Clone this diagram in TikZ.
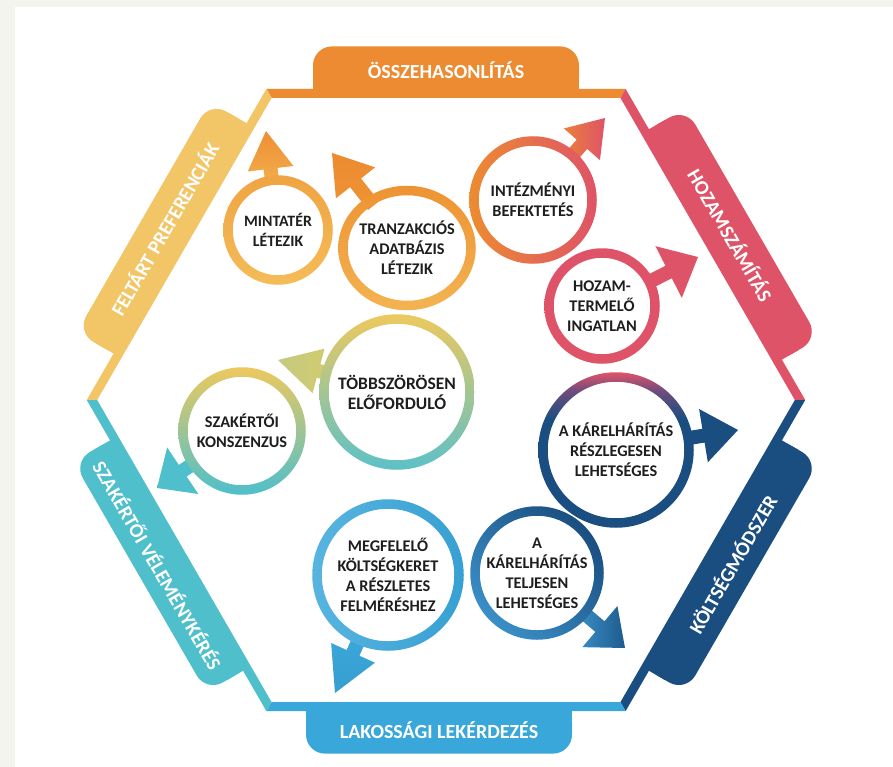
\documentclass[tikz,border=0pt]{standalone}
\usepackage{fontspec}
\setmainfont{Carlito}
\usetikzlibrary{calc}
\definecolor{bgstrip}{HTML}{F3F5EC}
\definecolor{cOrange}{HTML}{EC8B31}
\definecolor{cPink}{HTML}{DF5368}
\definecolor{cNavy}{HTML}{1A4E80}
\definecolor{cBlue}{HTML}{3AA7DA}
\definecolor{cTeal}{HTML}{4EBFCB}
\definecolor{cYellow}{HTML}{F2C566}
\definecolor{cMauve}{HTML}{6E4C7C}
\definecolor{txt}{HTML}{1E1E1E}
\definecolor{oA}{HTML}{EE8E35}
\definecolor{oB}{HTML}{F2B04C}
\definecolor{oC}{HTML}{F0A443}
\definecolor{oD}{HTML}{F4BC58}
\definecolor{oE}{HTML}{EE9333}
\definecolor{oF}{HTML}{F3B352}
\definecolor{gA}{HTML}{C4CA80}
\definecolor{gB}{HTML}{D3CB6E}
\definecolor{yA}{HTML}{EDC95E}
\definecolor{tA}{HTML}{5CC1C7}
\definecolor{bL}{HTML}{3A8FC7}
\pgfdeclareverticalshading{reszsh}{100bp}{color(0bp)=(cNavy); color(25bp)=(cNavy); color(60bp)=(cNavy); color(69bp)=(cMauve); color(75bp)=(cPink); color(100bp)=(cPink)}

% one side of the hexagon: rotation, colour, offset of the tab along the side
\newcommand\hexside[3]{%
  \begin{scope}[shift={(446,400)}, rotate=#1]
    \fill[#2, rounded corners=19pt] (-133+#3,-303) -- (-133+#3,-353.6) -- (133+#3,-353.6) -- (133+#3,-303) -- cycle;
    \fill[#2] (-133+#3,-330) -- (133+#3,-330) -- (133+#3,-303) -- (-133+#3,-303) -- cycle;
    \fill[#2] (-179.6,-311.1) -- (179.6,-311.1) -- (174.4,-302.1) -- (-174.4,-302.1) -- cycle;
  \end{scope}}

% arrow leaving a ring: node, radius, tip, head length, head half width, shading
\newcommand\ringarrow[6]{%
  \coordinate (aS) at ($(#1.center)!#2pt!(#3)$);
  \coordinate (aB) at ($(#3)!#4pt!(aS)$);
  \shade[#6] ($(aS)!7pt!90:(#3)$) -- ($(aB)!7pt!90:(#3)$) -- ($(aB)!#5pt!90:(#3)$) -- (#3)
     -- ($(aB)!#5pt!-90:(#3)$) -- ($(aB)!7pt!-90:(#3)$) -- ($(aS)!7pt!-90:(#3)$) -- cycle;}

% ring around a node: node, radius, shading
\newcommand\ringat[3]{%
  \shade[even odd rule, #3] (#1.center) circle[radius=#2pt+4.75pt] (#1.center) circle[radius=#2pt-4.75pt];}

\begin{document}
\begin{tikzpicture}[x=1pt, y=-1pt,
  ctext/.style={align=center, font=\bfseries\fontsize{16.3}{20}\selectfont, text=txt, inner sep=0pt},
  tabtext/.style={font=\bfseries\fontsize{20}{24}\selectfont, text=white, inner sep=0pt}]
\useasboundingbox (0,0) rectangle (893,767);
\fill[white] (0,0) rectangle (893,767);
\fill[bgstrip] (0,0) rectangle (15,767);
\fill[bgstrip] (0,0) rectangle (893,7);

% hexagon sides with their tabs
\hexside{0}{cOrange}{0}
\hexside{-60}{cPink}{0}
\hexside{-120}{cNavy}{0}
\hexside{180}{cBlue}{7}
\hexside{120}{cTeal}{0}
\hexside{60}{cYellow}{7}

% tab labels
\node[tabtext] (tTop) at (446,70) {ÖSSZEHASONLÍTÁS};
\node[tabtext, rotate=-60] (tTR) at (731,235) {HOZAMSZÁMÍTÁS};
\node[tabtext, rotate=60] (tBR) at (732,564) {KÖLTSÉGMÓDSZER};
\node[tabtext] (tBot) at (439,730) {LAKOSSÁGI LEKÉRDEZÉS};
\node[tabtext, rotate=-60] (tBL) at (158,565) {SZAKÉRTŐI VÉLEMÉNYKÉRÉS};
\node[tabtext, rotate=60] (tTL) at (164,229) {FELTÁRT PREFERENCIÁK};

% circle texts
\node[ctext, font=\bfseries\fontsize{15.8}{20}\selectfont] (c1) at (278,230) {MINTATÉR\\LÉTEZIK};
\node[ctext] (c2) at (407,248) {TRANZAKCIÓS\\ADATBÁZIS\\LÉTEZIK};
\node[ctext] (c3) at (533,200) {INTÉZMÉNYI\\BEFEKTETÉS};
\node[ctext] (c4) at (602,306) {HOZAM-\\TERMELŐ\\INGATLAN};
\node[ctext, font=\bfseries\fontsize{17.5}{20}\selectfont] (c5) at (397,392) {TÖBBSZÖRÖSEN\\ELŐFORDULÓ};
\node[ctext] (c6) at (242,431) {SZAKÉRTŐI\\KONSZENZUS};
\node[ctext] (c7) at (616,450) {A KÁRELHÁRÍTÁS\\RÉSZLEGESEN\\LEHETSÉGES};
\node[ctext] (c8) at (537,573) {A\\KÁRELHÁRÍTÁS\\TELJESEN\\LEHETSÉGES};
\node[ctext] (c9) at (388,575) {MEGFELELŐ\\KÖLTSÉGKERET\\A RÉSZLETES\\FELMÉRÉSHEZ};

% arrow tips
\coordinate (p1) at (266,131);
\coordinate (p2) at (332,153);
\coordinate (p3) at (605,118);
\coordinate (p4) at (698,257);
\coordinate (p5) at (278,360);
\coordinate (p6) at (157,488);
\coordinate (p7) at (738,430);
\coordinate (p8) at (625,648);
\coordinate (p9) at (335,693);

% arrows
\ringarrow{c1}{46}{p1}{38}{23}{top color=oA, bottom color=oB}
\ringarrow{c2}{54}{p2}{38}{25}{top color=cOrange, bottom color=oE}
\ringarrow{c3}{55}{p3}{35}{24}{left color=cOrange!80!cPink, right color=cPink}
\ringarrow{c4}{49}{p4}{33}{29}{top color=cPink, bottom color=cPink}
\ringarrow{c5}{69}{p5}{42}{23}{left color=gA, right color=gB}
\ringarrow{c6}{55}{p6}{31}{28}{top color=cTeal, bottom color=cTeal}
\ringarrow{c7}{69}{p7}{35}{27}{top color=cNavy, bottom color=cNavy}
\ringarrow{c8}{58}{p8}{33}{27}{left color=bL, right color=cNavy!85!cBlue}
\ringarrow{c9}{67}{p9}{44}{24}{top color=cBlue, bottom color=cBlue!90!cNavy}

% rings
\ringat{c1}{50}{top color=oC, bottom color=oD}
\shade[even odd rule, top color=oE, bottom color=oF]
  (c2.center) ellipse[x radius=68.75pt, y radius=62.25pt] (c2.center) ellipse[x radius=59.25pt, y radius=52.75pt];
\ringat{c3}{59}{left color=cOrange, right color=cPink}
\ringat{c4}{53}{top color=cPink, bottom color=cPink}
\ringat{c5}{73}{top color=yA, bottom color=tA}
\ringat{c6}{59}{top color=yA, bottom color=cTeal}
\ringat{c7}{73}{shading=reszsh}
\ringat{c8}{62}{top color=cNavy, bottom color=bL, shading angle=-45}
\ringat{c9}{71}{left color=cBlue!85!white, right color=cBlue!92!cNavy}
\end{tikzpicture}
\end{document}
